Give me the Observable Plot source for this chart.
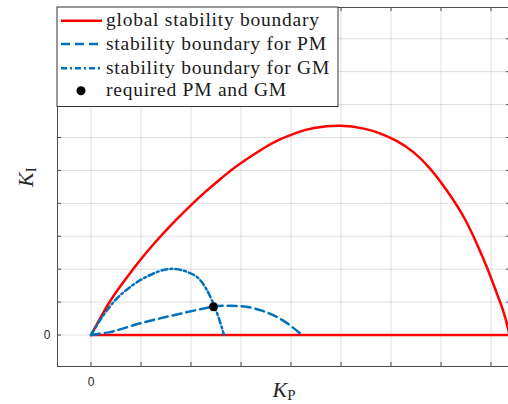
<!DOCTYPE html>
<html>
<head>
<meta charset="utf-8">
<script src="https://cdn.jsdelivr.net/npm/d3@7"></script>
<script src="https://cdn.jsdelivr.net/npm/@observablehq/plot@0.6"></script>
<style>
  html, body { margin: 0; padding: 0; background: #fff; }
  #chart { width: 508px; height: 404px; }
</style>
</head>
<body>
<div id="chart"></div>
<script>
// Global stability boundary in the (K_P, K_I) plane
const globalKP = [0, 0.35, 0.62, 0.95, 1.28, 1.62, 1.95, 2.28, 2.62, 2.95, 3.46, 3.79, 4.12, 4.46, 4.99, 5.46, 5.79, 6.12, 6.46, 6.79, 7.12, 7.46, 7.72, 7.92, 8.12, 8.26, 8.34, 8.37];
const globalKI = [0, 0.95, 1.55, 2.21, 2.81, 3.37, 3.87, 4.34, 4.78, 5.17, 5.68, 5.95, 6.15, 6.29, 6.36, 6.27, 6.12, 5.89, 5.54, 5.04, 4.38, 3.57, 2.76, 2.05, 1.25, 0.66, 0.20, 0];

// Boundary for the phase-margin requirement
const pmKP = [0, 0.35, 0.95, 1.62, 2.15, 2.45, 2.75, 3.02, 3.42, 3.89, 4.22];
const pmKI = [0, 0.08, 0.34, 0.59, 0.77, 0.86, 0.89, 0.87, 0.74, 0.39, 0];

// Boundary for the gain-margin requirement
const gmKP = [0, 0.22, 0.48, 0.82, 1.15, 1.62, 1.95, 2.22, 2.42, 2.55, 2.66];
const gmKI = [0, 0.54, 1.05, 1.50, 1.80, 2.01, 1.90, 1.60, 1.05, 0.54, 0];

// Controller meeting both margins
const requiredKP = [2.45];
const requiredKI = [0.86];

// Tick positions (only zero carries a label)
const xTicks = [0, 1, 2, 3, 4, 5, 6, 7, 8];
const yTicks = [0, 1, 2, 3, 4, 5, 6, 7, 8, 9];

const legendLabels = [
  "global stability boundary",
  "stability boundary for PM",
  "stability boundary for GM",
  "required PM and GM"
];

const RED = "#ff0000";
const BLUE = "#0072bd";
const SERIF = "'Liberation Serif', 'DejaVu Serif', serif";

const rows = (xs, ys) => xs.map((x, i) => ({kp: x, ki: ys[i]}));
const globalRows = rows(globalKP, globalKI);
const pmRows = rows(pmKP, pmKI);
const gmRows = rows(gmKP, gmKI);
const reqRows = rows(requiredKP, requiredKI);

const W = 508, H = 404;
const mLeft = 57, mTop = 7, mBottom = 38, mRight = -2;
const innerW = W - mLeft - mRight;
const innerH = H - mTop - mBottom;
const tickLen = 4;
const tickFmt = d => (d === 0 ? "0" : "");

const plot = Plot.plot({
  width: W,
  height: H,
  marginLeft: mLeft,
  marginTop: mTop,
  marginBottom: mBottom,
  marginRight: mRight,
  style: {background: "#fff", fontFamily: "'Liberation Sans', Arial, sans-serif"},
  x: {domain: [-0.67, 8.39]},
  y: {domain: [-0.957, 9.95]},
  marks: [
    Plot.gridX(xTicks, {stroke: "#262626", strokeOpacity: 0.15, strokeWidth: 1}),
    Plot.gridY(yTicks, {stroke: "#262626", strokeOpacity: 0.15, strokeWidth: 1}),
    // inward tick marks on all four sides
    Plot.ruleX(xTicks, {insetTop: innerH - tickLen, stroke: "#4d4d4d"}),
    Plot.ruleX(xTicks, {insetBottom: innerH - tickLen, stroke: "#4d4d4d"}),
    Plot.ruleY(yTicks, {insetRight: innerW - tickLen, stroke: "#4d4d4d"}),
    Plot.ruleY(yTicks, {insetLeft: innerW - tickLen, stroke: "#4d4d4d"}),
    Plot.axisX(xTicks, {anchor: "bottom", tickSize: 0, tickPadding: 11, tickFormat: tickFmt, label: null, fontSize: 12, fill: "#262626"}),
    Plot.axisY(yTicks, {anchor: "left", tickSize: 0, tickPadding: 7, tickFormat: tickFmt, label: null, fontSize: 12, fill: "#262626"}),
    Plot.frame({stroke: "#4d4d4d", strokeWidth: 1}),
    // stability regions
    Plot.ruleY([0], {x1: globalKP[0], x2: globalKP[globalKP.length - 1], stroke: RED, strokeWidth: 2.5}),
    Plot.line(globalRows, {x: "kp", y: "ki", stroke: RED, strokeWidth: 2.5, curve: "natural"}),
    Plot.line(pmRows, {x: "kp", y: "ki", stroke: BLUE, strokeWidth: 2.5, strokeDasharray: "9,5", curve: "monotone-x"}),
    Plot.line(gmRows, {x: "kp", y: "ki", stroke: BLUE, strokeWidth: 2.5, strokeDasharray: "6,3,2,3", curve: "monotone-x"}),
    Plot.dot(reqRows, {x: "kp", y: "ki", r: 4.5, fill: "#000", stroke: "none"}),
    // axis titles (subscripts added after render)
    Plot.text(["KP"], {frameAnchor: "bottom", lineAnchor: "middle", dy: 23, text: d => d, fontSize: 22}),
    Plot.text(["KI"], {frameAnchor: "left", lineAnchor: "middle", dx: -32, rotate: -90, text: d => d, fontSize: 22})
  ]
});

const svg = d3.select(plot);

// Render K with a roman subscript
function subscriptTitle(node, sub) {
  const sel = d3.select(node);
  sel.text(null).attr("font-family", SERIF).attr("fill", "#262626");
  sel.append("tspan").attr("font-style", "italic").text("K");
  sel.append("tspan").attr("font-size", 15).attr("dy", "0.25em").text(sub);
}
svg.selectAll("text").each(function () {
  const t = this.textContent;
  if (t === "KP") subscriptTitle(this, "P");
  else if (t === "KI") subscriptTitle(this, "I");
});

// Legend box in the upper-left corner of the axes
const legend = svg.append("g")
  .attr("transform", `translate(${mLeft},${mTop})`)
  .attr("text-anchor", "start");
legend.append("rect")
  .attr("x", 0).attr("y", 0).attr("width", 281).attr("height", 99.5)
  .attr("fill", "#fff").attr("stroke", "#333").attr("stroke-width", 1);
const entryStyles = [
  {stroke: RED, dash: null},
  {stroke: BLUE, dash: "9,5"},
  {stroke: BLUE, dash: "6,3,2,3"},
  {dot: true}
];
const rowY = [13.7, 37, 61.3, 83.7];
legendLabels.forEach((label, i) => {
  const y = rowY[i];
  const s = entryStyles[i];
  if (s.dot) {
    legend.append("circle").attr("cx", 24).attr("cy", y).attr("r", 4.5).attr("fill", "#000");
  } else {
    legend.append("line")
      .attr("x1", 4).attr("x2", 45).attr("y1", y).attr("y2", y)
      .attr("stroke", s.stroke).attr("stroke-width", 2.5)
      .attr("stroke-dasharray", s.dash);
  }
  legend.append("text")
    .attr("x", 49).attr("y", y + 5.5)
    .attr("text-anchor", "start")
    .attr("font-family", SERIF)
    .attr("font-size", 19.5)
    .attr("letter-spacing", 0.75)
    .attr("fill", "#1a1a1a")
    .text(label);
});

document.getElementById("chart").appendChild(plot);
</script>
</body>
</html>
